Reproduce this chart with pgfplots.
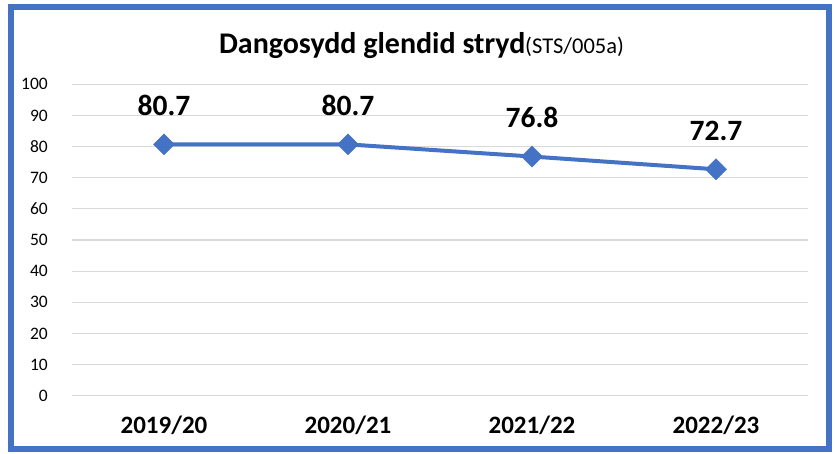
\documentclass[border=0pt]{standalone}
\usepackage{fontspec}
\setmainfont{Carlito}
\usepackage{pgfplots}
\pgfplotsset{compat=1.18}
\definecolor{XlBlue}{HTML}{4472C4}
\definecolor{XlGrid}{HTML}{D9D9D9}

\begin{document}
\begin{tikzpicture}
\path[use as bounding box] (0,0) rectangle (835pt,454pt);
\draw[XlBlue, line width=6pt] (11pt,5pt) rectangle (829pt,447pt);
\node[anchor=base, inner sep=0pt] at (421.5pt,400.7pt)
  {\fontsize{30}{34}\selectfont\bfseries Dangosydd glendid stryd{\mdseries\fontsize{22.5}{26}\selectfont(STS/005a)}};
\begin{axis}[
    at={(72pt,58.3pt)},
    anchor=south west,
    scale only axis,
    width=736pt,
    height=311.4pt,
    xmin=-0.5, xmax=3.5,
    ymin=0, ymax=100,
    xtick={0,1,2,3},
    xticklabels={2019/20,2020/21,2021/22,2022/23},
    ytick={0,10,...,100},
    ymajorgrids=true,
    grid style={XlGrid, line width=1.2pt},
    axis line style={draw=none},
    major tick length=0pt,
    /pgf/number format/assume math mode=true,
    yticklabel style={anchor=east, inner sep=0pt, xshift=-24pt, font=\fontsize{17.5}{20}\selectfont},
    xticklabel style={anchor=base, inner sep=0pt, yshift=-38.3pt, font=\fontsize{25}{28}\selectfont\bfseries},
    nodes near coords,
    nodes near coords style={anchor=base, inner sep=0pt, yshift=29pt, text=black,
        font=\fontsize{29.5}{32}\selectfont\bfseries,
        /pgf/number format/.cd, fixed, fixed zerofill, precision=1},
    clip=false,
]
\addplot[XlBlue, line width=4pt, mark=square*, mark size=7.4pt,
    mark options={rotate=45, solid, line width=0.5pt}]
    coordinates {(0,80.7) (1,80.7) (2,76.8) (3,72.7)};
\end{axis}
\end{tikzpicture}
\end{document}
